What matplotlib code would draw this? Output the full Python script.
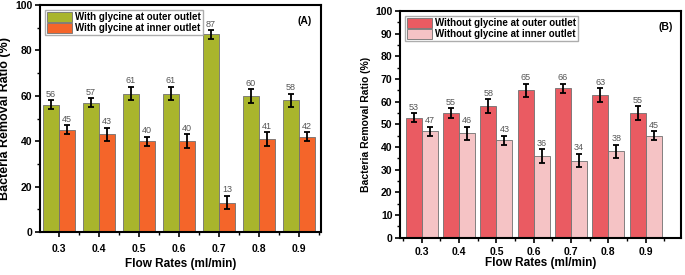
import numpy as np
import matplotlib.pyplot as plt
from matplotlib.ticker import MultipleLocator

plt.rcParams['font.family'] = ['Liberation Sans', 'DejaVu Sans']

flow_rates = ['0.3', '0.4', '0.5', '0.6', '0.7', '0.8', '0.9']

# panel A: with glycine
a_outer = [56, 57, 61, 61, 87, 60, 58]
a_outer_err = [2, 2, 3, 3, 2, 3, 3]
a_inner = [45, 43, 40, 40, 13, 41, 42]
a_inner_err = [2, 3, 2, 3, 3, 3, 2]

# panel B: without glycine
b_outer = [53, 55, 58, 65, 66, 63, 55]
b_outer_err = [2, 2, 3, 3, 2, 3, 3]
b_inner = [47, 46, 43, 36, 34, 38, 45]
b_inner_err = [2, 3, 2, 3, 3, 3, 2]


def draw_panel(ax, outer, outer_err, inner, inner_err, labels, colors, tag,
               ystep, width, ylabel_size, xpad, xlabelpad):
    x = np.arange(len(flow_rates))
    ax.bar(x - width / 2, outer, width, yerr=outer_err, color=colors[0],
           edgecolor='#707070', linewidth=0.6, label=labels[0],
           error_kw=dict(ecolor='black', elinewidth=1.3, capsize=2.5, capthick=1.3))
    ax.bar(x + width / 2, inner, width, yerr=inner_err, color=colors[1],
           edgecolor='#707070', linewidth=0.6, label=labels[1],
           error_kw=dict(ecolor='black', elinewidth=1.3, capsize=2.5, capthick=1.3))
    for xi, v, e in zip(x - width / 2, outer, outer_err):
        ax.text(xi, v + e + 0.6, str(v), ha='center', va='bottom',
                fontsize=6.5, color='#555555')
    for xi, v, e in zip(x + width / 2, inner, inner_err):
        ax.text(xi, v + e + 0.6, str(v), ha='center', va='bottom',
                fontsize=6.5, color='#555555')

    ax.set_ylim(0, 100)
    ax.set_xticks(x)
    ax.set_xticklabels(flow_rates, fontweight='bold', fontsize=7.5)
    ax.xaxis.set_minor_locator(MultipleLocator(1, offset=0.5))
    ax.yaxis.set_major_locator(MultipleLocator(ystep))
    ax.yaxis.set_minor_locator(MultipleLocator(ystep / 2))
    for t in ax.get_yticklabels():
        t.set_fontweight('bold')
        t.set_fontsize(7.5)
    ax.tick_params(which='major', direction='out', length=3.5, width=1.2, pad=2)
    ax.tick_params(which='minor', direction='out', length=2, width=1)
    ax.tick_params(axis='x', pad=xpad)
    for s in ax.spines.values():
        s.set_linewidth(1.5)

    ax.set_xlabel('Flow Rates (ml/min)', fontweight='bold', fontsize=8.5,
                  labelpad=xlabelpad)
    ax.set_ylabel('Bacteria Removal Ratio (%)', fontweight='bold',
                  fontsize=ylabel_size, labelpad=3)
    ax.text(0.97, 0.93, tag, transform=ax.transAxes, ha='right', va='center',
            fontweight='bold', fontsize=7.5)
    ax.legend(loc='upper left', bbox_to_anchor=(0.01, 0.985),
              prop=dict(weight='bold', size=7), frameon=True, fancybox=False,
              edgecolor='#999999', borderpad=0.2, handlelength=2.6,
              handleheight=1.1, handletextpad=0.3, labelspacing=0.1,
              borderaxespad=0.2)


fig = plt.figure(figsize=(6.85, 2.75), dpi=100)

ax1 = fig.add_axes([0.0584, 0.156, 0.4096, 0.826])
draw_panel(ax1, a_outer, a_outer_err, a_inner, a_inner_err,
           ['With glycine at outer outlet', 'With glycine at inner outlet'],
           ['#A9B52C', '#F4652A'], '(A)', 20, 0.4, 9, 5, 3)
ax1.set_xlim(-0.47, 6.54)

ax2 = fig.add_axes([0.584, 0.136, 0.41, 0.824])
draw_panel(ax2, b_outer, b_outer_err, b_inner, b_inner_err,
           ['Without glycine at outer outlet', 'Without glycine at inner outlet'],
           ['#EA5B62', '#F5C3C5'], '(B)', 10, 0.43, 7.5, 3, 0.5)
ax2.set_xlim(-0.58, 6.94)

fig.savefig('out.png', dpi=100)
